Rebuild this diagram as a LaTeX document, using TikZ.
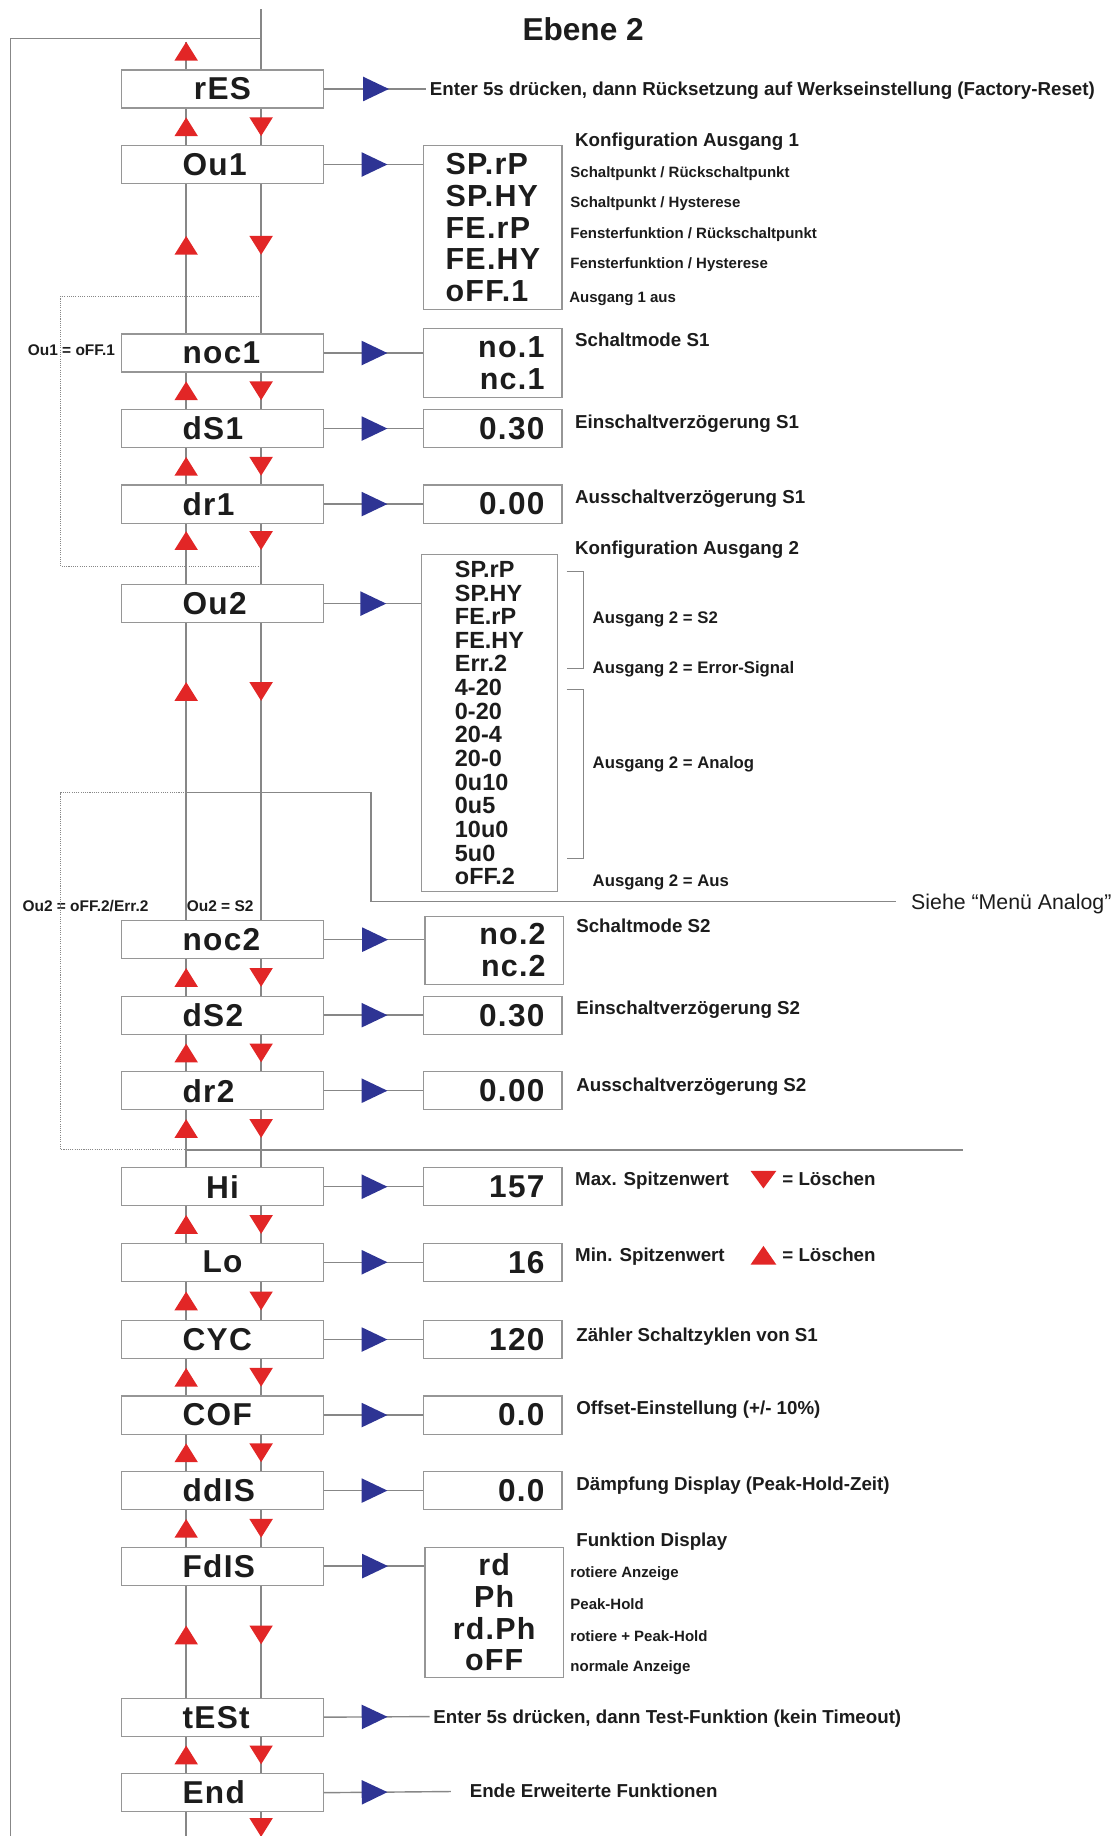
\documentclass[tikz,border=0pt]{standalone}
\usepackage{fontspec}
\setmainfont{Liberation Sans}
\newfontfamily\lcdfont[LetterSpace=4]{Liberation Sans}
\usetikzlibrary{decorations.markings}

\definecolor{wiregray}{RGB}{135,135,135}
\definecolor{boxgray}{RGB}{150,150,150}
\definecolor{keyred}{RGB}{226,38,38}
\definecolor{keyblue}{RGB}{46,52,148}
\definecolor{ink}{RGB}{28,28,28}

\tikzset{
  menu/.style={draw=boxgray, line width=1pt, minimum width=172pt, minimum height=32.5pt,
    inner xsep=0pt, inner ysep=0pt, text width=68pt, align=left, text=ink,
    font=\lcdfont\bfseries\fontsize{27}{27}\selectfont},
  valbox/.style={draw=boxgray, line width=1pt, minimum width=118pt, minimum height=32.5pt,
    inner xsep=15pt, inner ysep=0pt, text width=88pt, align=right, text=ink,
    node distance=231pt, font=\lcdfont\bfseries\fontsize{27}{27}\selectfont},
  listbox/.style={draw=boxgray, line width=1pt, minimum width=118pt, inner sep=0pt,
    align=left, anchor=north, text=ink},
  wire/.style={draw=wiregray, line width=1.2pt},
  bypass/.style={draw=wiregray, line width=0.9pt, densely dotted},
  redway/.style={wire, postaction={decorate, decoration={markings,
      mark=at position #1 with {\fill[keyred] (-8pt,-10pt) -- (8pt,0pt) -- (-8pt,10pt) -- cycle;}}}},
  redway/.default=0.5,
  blueway/.style={wire, postaction={decorate, decoration={markings,
      mark=at position #1 with {\fill[keyblue] (-11pt,-10.5pt) -- (11pt,0pt) -- (-11pt,10.5pt) -- cycle;}}}},
  blueway/.default=0.51,
  note/.style={anchor=west, inner sep=0pt, text=ink, text height=11.5pt, text depth=0pt,
    font=\bfseries\fontsize{16}{16}\selectfont},
  hint/.style={note, text height=9.2pt, font=\bfseries\fontsize{12.8}{12.8}\selectfont},
  outcome/.style={note, text height=10.2pt, font=\bfseries\fontsize{14.3}{14.3}\selectfont},
  cond/.style={inner sep=0pt, text=ink, text height=9.5pt, text depth=0pt,
    font=\bfseries\fontsize{13.2}{13.2}\selectfont},
}

\begin{document}
\begin{tikzpicture}[x=1pt,y=-1pt,node distance=64.5pt]
\useasboundingbox (0,0) rectangle (954,1568);

\node[font=\bfseries\fontsize{27}{27}\selectfont, text=ink] (title) at (498,25) {Ebene 2};

\node[menu, align=center] (rES) at (190,76) {rES};
\node[menu] (Ou1) [below of=rES] {Ou1};
\node[menu] (noc1) [node distance=161pt, below of=Ou1] {noc1};
\node[menu] (dS1) [below of=noc1] {dS1};
\node[menu] (dr1) [below of=dS1] {dr1};
\node[menu] (Ou2) [node distance=85pt, below of=dr1] {Ou2};
\node[menu] (noc2) [node distance=287pt, below of=Ou2] {noc2};
\node[menu] (dS2) [below of=noc2] {dS2};
\node[menu] (dr2) [below of=dS2] {dr2};
\node[menu, align=center] (Hi) [node distance=82pt, below of=dr2] {Hi};
\node[menu, align=center] (Lo) [below of=Hi] {Lo};
\node[menu] (CYC) [node distance=66pt, below of=Lo] {CYC};
\node[menu] (COF) [below of=CYC] {COF};
\node[menu] (ddIS) [below of=COF] {ddIS};
\node[menu] (FdIS) [below of=ddIS] {FdIS};
\node[menu] (tESt) [node distance=129pt, below of=FdIS] {tESt};
\node[menu] (End) [below of=tESt] {End};

\node[listbox, minimum height=140pt, font=\lcdfont\bfseries\fontsize{26}{27}\selectfont]
  (ou1set) at (421,124) {SP.rP\\SP.HY\\FE.rP\\FE.HY\\oFF.1};
\node[valbox, anchor=north, minimum height=59pt, font=\lcdfont\bfseries\fontsize{26}{27}\selectfont]
  (noc1set) at (421,280) {no.1\\nc.1};
\node[valbox] (dS1val) [right of=dS1] {0.30};
\node[valbox] (dr1val) [right of=dr1] {0.00};
\node[listbox, minimum width=116pt, minimum height=288pt, font=\bfseries\fontsize{20}{20.2}\selectfont]
  (ou2set) at (418,473) {SP.rP\\SP.HY\\FE.rP\\FE.HY\\Err.2\\4-20\\0-20\\20-4\\20-0\\0u10\\0u5\\10u0\\5u0\\oFF.2};
\node[valbox, anchor=north, minimum height=58pt, font=\lcdfont\bfseries\fontsize{26}{27}\selectfont]
  (noc2set) at (422,782) {no.2\\nc.2};
\node[valbox] (dS2val) [right of=dS2] {0.30};
\node[valbox] (dr2val) [right of=dr2] {0.00};
\node[valbox] (Hival) [right of=Hi] {157};
\node[valbox] (Loval) [right of=Lo] {16};
\node[valbox] (CYCval) [right of=CYC] {120};
\node[valbox] (COFval) [right of=COF] {0.0};
\node[valbox] (ddISval) [right of=ddIS] {0.0};
\node[valbox, anchor=north, minimum height=111pt, align=center, font=\lcdfont\bfseries\fontsize{26}{27}\selectfont]
  (fdisset) at (422,1321) {rd\\Ph\\rd.Ph\\oFF};

\node[note, inner xsep=3pt] (resnote) at (364,76) {Enter 5s drücken, dann Rücksetzung auf Werkseinstellung (Factory-Reset)};
\node[note] (ou1head) at (491,119) {Konfiguration Ausgang 1};
\node[hint] (sprp1) at (487,147) {Schaltpunkt / Rückschaltpunkt};
\node[hint] (sphy1) at (487,173) {Schaltpunkt / Hysterese};
\node[hint] (ferp1) at (487,199) {Fensterfunktion / Rückschaltpunkt};
\node[hint] (fehy1) at (487,225) {Fensterfunktion / Hysterese};
\node[hint] (off1) at (486,254) {Ausgang 1 aus};
\node[note] (noc1note) at (491,290) {Schaltmode S1};
\node[note] (ds1note) at (491,360) {Einschaltverzögerung S1};
\node[note] (dr1note) at (491,424) {Ausschaltverzögerung S1};
\node[note] (ou2head) at (491,468) {Konfiguration Ausgang 2};
\node[outcome] (ou2s2) at (506,527) {Ausgang 2 = S2};
\node[outcome] (ou2err) at (506,570) {Ausgang 2 = Error-Signal};
\node[outcome] (ou2ana) at (506,651) {Ausgang 2 = Analog};
\node[outcome] (ou2off) at (506,752) {Ausgang 2 = Aus};
\node[anchor=west, inner sep=0pt, text=ink, text height=13pt, text depth=0pt,
  font=\fontsize{18.2}{18.2}\selectfont] (analognote) at (778,770) {Siehe “Menü Analog”};
\node[note] (noc2note) at (492,791) {Schaltmode S2};
\node[note] (ds2note) at (492,861) {Einschaltverzögerung S2};
\node[note] (dr2note) at (492,926) {Ausschaltverzögerung S2};
\node[note] (hinote) at (491,1007) {Max. Spitzenwert};
\node[note] (hiclear) at (668,1007) {= Löschen};
\node[note] (lonote) at (491,1072) {Min. Spitzenwert};
\node[note] (loclear) at (668,1072) {= Löschen};
\node[note] (cycnote) at (492,1140) {Zähler Schaltzyklen von S1};
\node[note] (cofnote) at (492,1202) {Offset-Einstellung (+/- 10\%)};
\node[note] (ddisnote) at (492,1267) {Dämpfung Display (Peak-Hold-Zeit)};
\node[note] (fdishead) at (492,1315) {Funktion Display};
\node[hint] (rdnote) at (487,1343) {rotiere Anzeige};
\node[hint] (phnote) at (487,1370) {Peak-Hold};
\node[hint] (rdphnote) at (487,1397) {rotiere + Peak-Hold};
\node[hint] (offnote) at (487,1423) {normale Anzeige};
\node[note, inner xsep=3pt] (testnote) at (367,1466) {Enter 5s drücken, dann Test-Funktion (kein Timeout)};
\node[note] (endnote) at (401,1529) {Ende Erweiterte Funktionen};

\node[cond] (ou1off) at (61,299) {Ou1 = oFF.1};
\node[cond] (ou2off2) at (73,774) {Ou2 = oFF.2/Err.2};
\node[cond] (ou2sw) at (188,774) {Ou2 = S2};

\coordinate (upx) at (159,0);
\coordinate (dnx) at (223,0);
\coordinate (sidex) at (52,0);
\coordinate (top) at (223,8);
\coordinate (loop) at (223,33);
\coordinate (rail) at (9,1568);
\coordinate (uptip) at (159,36);
\coordinate (upend) at (159,1568);
\coordinate (dnend) at (223,1568);
\coordinate (endtail) at (385,1530);
\coordinate (off1a) at (223,253);
\coordinate (off1b) at (223,484);
\coordinate (off2a) at (159,677);
\coordinate (off2b) at (159,982);
\coordinate (analog) at (765,770);
\coordinate (sumline) at (822,982);

\draw[wire] (top) -- (rES.north -| dnx);
\draw[wire] (loop) -| (rail);
\draw[redway=0.667] (rES.north -| upx) -- (uptip);
\foreach \a/\b/\p in {rES/Ou1/0.5, Ou1/noc1/0.41, noc1/dS1/0.5, dS1/dr1/0.5, dr1/Ou2/0.28,
    Ou2/noc2/0.23, noc2/dS2/0.5, dS2/dr2/0.5, dr2/Hi/0.32, Hi/Lo/0.5, Lo/CYC/0.5,
    CYC/COF/0.5, COF/ddIS/0.5, ddIS/FdIS/0.5, FdIS/tESt/0.44, tESt/End/0.5}{
  \pgfmathsetmacro\q{1-\p}
  \draw[redway=\p] (\a.south -| dnx) -- (\b.north -| dnx);
  \draw[redway=\q] (\b.north -| upx) -- (\a.south -| upx);
}
\draw[wire] (End.south -| upx) -- (upend);
\draw[redway=0.64] (End.south -| dnx) -- (dnend);

\draw[bypass] (off1a) -| (sidex |- off1b) -- (off1b);
\draw[bypass] (off2a) -| (sidex |- off2b) -- (off2b);
\draw[wire] (off2a) -- (317,677) |- (analog);
\draw[wire] (off2b) -- (sumline);

\draw[blueway] (rES.east) -- (resnote.west);
\foreach \a/\b in {Ou1/ou1set, noc1/noc1set, dS1/dS1val, dr1/dr1val, Ou2/ou2set,
    noc2/noc2set, dS2/dS2val, dr2/dr2val, Hi/Hival, Lo/Loval, CYC/CYCval,
    COF/COFval, ddIS/ddISval, FdIS/fdisset}
  \draw[blueway] (\a.east) -- (\a.east -| \b.west);
\draw[blueway=0.48] (tESt.east) -- (testnote.west);
\draw[blueway=0.4] (End.east) -- (endtail);

\draw[wiregray, line width=1pt] (484,488) -- (498,488) -- (498,571) -- (484,571);
\draw[wiregray, line width=1pt] (484,589) -- (498,589) -- (498,733) -- (484,733);
\fill[keyred] (641,1000) -- (663,1000) -- (652,1015) -- cycle;
\fill[keyred] (641,1080) -- (663,1080) -- (652,1064) -- cycle;

\end{tikzpicture}
\end{document}
